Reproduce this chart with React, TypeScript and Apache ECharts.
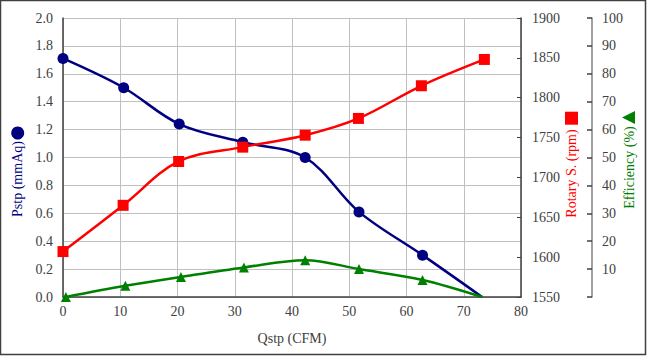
import React, { useEffect, useRef } from "react";
import * as echarts from "echarts";

const qstpPressure = [0, 10.6, 20.3, 31.4, 42.3, 51.7, 62.8, 73.2];
const pstp = [1.71, 1.5, 1.24, 1.11, 1.0, 0.61, 0.3, 0];

const qstpRpm = [0, 10.5, 20.2, 31.4, 42.3, 51.6, 62.6, 73.6];
const rotary = [1607, 1665, 1720, 1738, 1753, 1774, 1815, 1848];

const qstpEff = [0.5, 10.9, 20.6, 31.6, 42.3, 51.7, 62.8, 73.2];
const efficiency = [0, 4.0, 7.2, 10.6, 13.2, 10.0, 6.1, 0];

const FONT = "'Liberation Serif', 'Times New Roman', serif";
const TXT = "#404040";

function pairs(xs: number[], ys: number[], hideLast: boolean) {
  return xs.map((x, i) =>
    hideLast && i === xs.length - 1 ? { value: [x, ys[i]], symbol: "none" } : { value: [x, ys[i]] }
  );
}

export default function App() {
  const ref = useRef<HTMLDivElement>(null);
  useEffect(() => {
    document.body.style.margin = "0";
    const chart = echarts.init(ref.current!, null, { renderer: "svg" });
    const labelStyle = { fontFamily: FONT, fontSize: 14, color: TXT };
    chart.setOption({
      animation: false,
      backgroundColor: "#ffffff",
      textStyle: { fontFamily: FONT, fontSize: 14 },
      grid: { left: 63, right: 126, top: 18, bottom: 59, containLabel: false },
      xAxis: {
        type: "value",
        min: 0,
        max: 80,
        interval: 10,
        axisLine: { show: true, onZero: false, lineStyle: { color: "#404040", width: 1.5 } },
        axisTick: { show: false },
        axisLabel: { ...labelStyle, margin: 7 },
        splitLine: { show: true, lineStyle: { color: "#c0c0c0", width: 1 } },
        name: "Qstp (CFM)",
        nameLocation: "middle",
        nameGap: 34,
        nameTextStyle: { fontFamily: FONT, fontSize: 14, color: TXT },
      },
      yAxis: [
        {
          type: "value",
          position: "left",
          min: 0,
          max: 2,
          interval: 0.2,
          axisLine: { show: true, lineStyle: { color: "#404040", width: 1.5 } },
          axisTick: { show: false },
          axisLabel: { ...labelStyle, margin: 10, formatter: (v: number) => v.toFixed(1) },
          splitLine: { show: true, lineStyle: { color: "#c0c0c0", width: 1 } },
        },
        {
          type: "value",
          position: "right",
          min: 1550,
          max: 1900,
          interval: 50,
          axisLine: { show: true, lineStyle: { color: "#404040", width: 1.5 } },
          axisTick: { show: true, inside: true, length: 4, lineStyle: { color: "#404040" } },
          axisLabel: { ...labelStyle, margin: 11, formatter: (v: number) => String(v) },
          splitLine: { show: false },
        },
        {
          type: "value",
          position: "right",
          offset: 71,
          min: 0,
          max: 100,
          interval: 10,
          axisLine: { show: true, lineStyle: { color: "#808080", width: 1.5 } },
          axisTick: { show: true, inside: true, length: 5, lineStyle: { color: "#404040", width: 1.5 } },
          axisLabel: {
            ...labelStyle,
            margin: 10,
            formatter: (v: number) => (v === 0 ? "" : String(v)),
          },
          splitLine: { show: false },
        },
      ],
      series: [
        {
          type: "line",
          name: "Pstp",
          yAxisIndex: 0,
          data: pairs(qstpPressure, pstp, true),
          smooth: 0.35,
          symbol: "circle",
          symbolSize: 11,
          itemStyle: { color: "#000080" },
          lineStyle: { color: "#000080", width: 2.5 },
          z: 3,
        },
        {
          type: "line",
          name: "Rotary S.",
          yAxisIndex: 1,
          data: pairs(qstpRpm, rotary, false),
          smooth: 0.35,
          symbol: "rect",
          symbolSize: 11,
          itemStyle: { color: "#ff0000" },
          lineStyle: { color: "#ff0000", width: 2.5 },
          z: 4,
        },
        {
          type: "line",
          name: "Efficiency",
          yAxisIndex: 2,
          data: pairs(qstpEff, efficiency, true),
          smooth: 0.35,
          symbol: "triangle",
          symbolSize: 10,
          itemStyle: { color: "#008000" },
          lineStyle: { color: "#008000", width: 2.5 },
          z: 5,
        },
      ],
      graphic: [
        {
          type: "rect",
          shape: { x: 0.5, y: 0.5, width: 645, height: 354 },
          style: { fill: "none", stroke: "#404040", lineWidth: 1.5 },
          silent: true,
        },
        {
          type: "text",
          x: 17.7,
          y: 179,
          rotation: Math.PI / 2,
          style: {
            text: "Pstp (mmAq)",
            fill: "#000080",
            fontFamily: FONT,
            fontSize: 14,
            align: "center",
            verticalAlign: "middle",
          },
        },
        {
          type: "circle",
          shape: { cx: 17.7, cy: 133, r: 6.5 },
          style: { fill: "#000080" },
        },
        {
          type: "text",
          x: 571.7,
          y: 173.5,
          rotation: Math.PI / 2,
          style: {
            text: "Rotary S. (rpm)",
            fill: "#ff0000",
            fontFamily: FONT,
            fontSize: 14,
            align: "center",
            verticalAlign: "middle",
          },
        },
        {
          type: "rect",
          shape: { x: 565, y: 111.7, width: 13, height: 13 },
          style: { fill: "#ff0000" },
        },
        {
          type: "text",
          x: 629,
          y: 167.5,
          rotation: Math.PI / 2,
          style: {
            text: "Efficiency (%)",
            fill: "#008000",
            fontFamily: FONT,
            fontSize: 14,
            align: "center",
            verticalAlign: "middle",
          },
        },
        {
          type: "polygon",
          shape: { points: [[622, 117.5], [635, 111], [635, 124]] },
          style: { fill: "#008000" },
        },
      ],
    });
    return () => chart.dispose();
  }, []);
  return <div ref={ref} style={{ width: 647, height: 356 }} />;
}
